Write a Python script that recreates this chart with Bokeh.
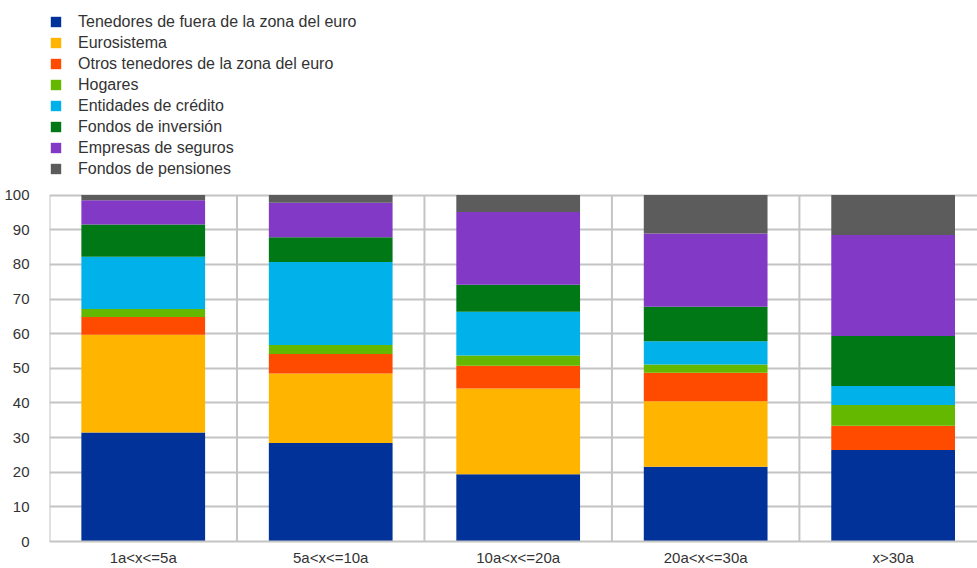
from bokeh.plotting import figure
from bokeh.models import Range1d, FixedTicker, Legend, LegendItem, ColumnDataSource
from bokeh.embed import file_html
from bokeh.resources import INLINE

categories = ["1a<x<=5a", "5a<x<=10a", "10a<x<=20a", "20a<x<=30a", "x>30a"]

series_names = [
    "Tenedores de fuera de la zona del euro",
    "Eurosistema",
    "Otros tenedores de la zona del euro",
    "Hogares",
    "Entidades de crédito",
    "Fondos de inversión",
    "Empresas de seguros",
    "Fondos de pensiones",
]

tenedores_fuera = [31.5, 28.4, 19.4, 21.6, 26.4]
eurosistema = [28.2, 20.1, 24.8, 18.9, 0.0]
otros_tenedores = [5.1, 5.6, 6.5, 8.2, 7.0]
hogares = [2.3, 2.6, 3.0, 2.4, 6.0]
entidades_credito = [15.1, 24.0, 12.6, 6.7, 5.5]
fondos_inversion = [9.3, 7.1, 7.8, 10.0, 14.4]
empresas_seguros = [7.0, 10.0, 21.0, 21.1, 29.2]
fondos_pensiones = [1.5, 2.2, 4.9, 11.1, 11.5]

colors = ["#003299", "#FFB400", "#FF4B00", "#65B800", "#00B1EA", "#007816", "#8139C6", "#5C5C5C"]

y_ticks = list(range(0, 101, 10))
Y_MAX = 100

keys = ["s%d" % i for i in range(len(series_names))]
all_values = [tenedores_fuera, eurosistema, otros_tenedores, hogares,
              entidades_credito, fondos_inversion, empresas_seguros, fondos_pensiones]

xs = [i + 0.5 for i in range(len(categories))]
data = {"x": xs}
for k, v in zip(keys, all_values):
    data[k] = v
source = ColumnDataSource(data)

FONT = "Liberation Sans"
TXT = "#333333"
GRID = "#c4c4c4"

# the legend sits inside the frame, in a band reserved above the 0-100 data area
LEGEND_SPACE = 53.0

p = figure(width=977, height=568, output_backend="svg", toolbar_location=None,
           x_range=Range1d(0, 4.95), y_range=Range1d(0, Y_MAX + LEGEND_SPACE),
           min_border_left=49, min_border_right=0, min_border_top=11, min_border_bottom=26)

p.outline_line_color = None
p.background_fill_color = "white"

p.ygrid.ticker = FixedTicker(ticks=y_ticks)
p.ygrid.grid_line_color = GRID
p.ygrid.grid_line_width = 2
p.xgrid.visible = False

bounds = list(range(len(categories)))
p.segment(x0=bounds, y0=[0] * len(bounds), x1=bounds, y1=[Y_MAX] * len(bounds),
          line_color=GRID, line_width=2)

renderers = p.vbar_stack(keys, x="x", width=0.66, color=colors, source=source, line_color=None)

legend = Legend(items=[LegendItem(label=n, renderers=[r]) for n, r in zip(series_names, renderers)],
                location="top_left", orientation="vertical",
                glyph_width=13, glyph_height=13, label_height=21, spacing=0,
                label_standoff=16, padding=2, margin=0,
                label_text_font=FONT, label_text_font_size="16px", label_text_color=TXT,
                border_line_color=None, background_fill_alpha=0)
p.add_layout(legend, "center")

p.yaxis.ticker = FixedTicker(ticks=y_ticks)
p.yaxis.major_tick_line_color = None
p.yaxis.minor_tick_line_color = None
p.yaxis.axis_line_color = None
p.yaxis.major_label_standoff = 14
p.yaxis.major_label_text_font = FONT
p.yaxis.major_label_text_font_size = "15px"
p.yaxis.major_label_text_color = TXT

p.xaxis.ticker = FixedTicker(ticks=xs)
p.xaxis.major_label_overrides = {x: c for x, c in zip(xs, categories)}
p.xaxis.major_tick_line_color = None
p.xaxis.minor_tick_line_color = None
p.xaxis.axis_line_color = GRID
p.xaxis.axis_line_width = 2
p.xaxis.major_label_standoff = 1
p.xaxis.major_label_text_font = FONT
p.xaxis.major_label_text_font_size = "15px"
p.xaxis.major_label_text_color = TXT

open("out.html", "w").write(file_html(p, INLINE))
